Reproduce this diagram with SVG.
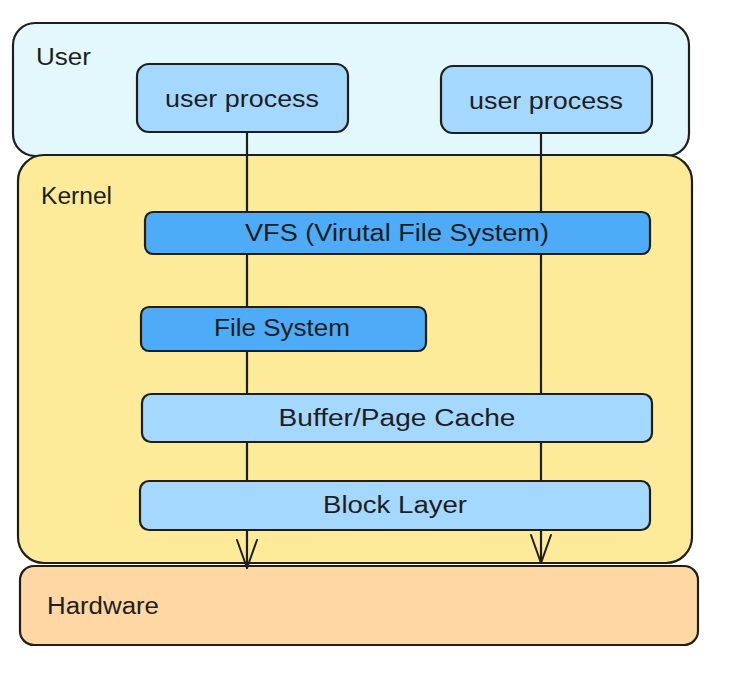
<svg xmlns="http://www.w3.org/2000/svg" width="729" height="674" viewBox="0 0 729 674">
<defs>
<style>
.box{stroke:#1e1e1e;stroke-width:2.2;stroke-linejoin:round}
.lbl{font-family:"Liberation Sans","DejaVu Sans",sans-serif;font-size:23px;fill:#1e1e1e;dominant-baseline:central}
.c{text-anchor:middle}
.conn{stroke:#1e1e1e;stroke-width:2.2;fill:none;stroke-linecap:round;stroke-linejoin:round}
</style>
<marker id="arr" viewBox="0 0 32 24" refX="30" refY="12" markerWidth="32" markerHeight="24" markerUnits="userSpaceOnUse" orient="auto">
<path d="M2 2 L30 12 L2 22" fill="none" stroke="#1e1e1e" stroke-width="2" stroke-linecap="round" stroke-linejoin="round"/>
</marker>
</defs>
<rect width="729" height="674" fill="#ffffff"/>
<g id="user">
<rect class="box" x="13" y="23" width="676" height="133" rx="22" fill="#e3f8fc"/>
<text class="lbl" x="36" y="57" textLength="55" lengthAdjust="spacingAndGlyphs">User</text>
</g>
<g id="kernel">
<rect class="box" x="18" y="155" width="674" height="408" rx="26" fill="#fdeb99"/>
<text class="lbl" x="41" y="196" textLength="71" lengthAdjust="spacingAndGlyphs">Kernel</text>
</g>
<g id="hardware">
<rect class="box" x="20" y="566" width="678" height="79" rx="14" fill="#fed7a3"/>
<text class="lbl" x="47" y="606" textLength="112" lengthAdjust="spacingAndGlyphs">Hardware</text>
</g>
<g id="connectors">
<path class="conn" d="M247 133 L247 568" marker-end="url(#arr)"/>
<path class="conn" d="M541 131 L541 563" marker-end="url(#arr)"/>
</g>
<g id="user-process-1">
<rect class="box" x="137" y="64" width="211" height="68" rx="12" fill="#a5d8ff"/>
<text class="lbl c" x="242" y="99" textLength="154" lengthAdjust="spacingAndGlyphs">user process</text>
</g>
<g id="user-process-2">
<rect class="box" x="441" y="66" width="211" height="67" rx="12" fill="#a5d8ff"/>
<text class="lbl c" x="546" y="101" textLength="154" lengthAdjust="spacingAndGlyphs">user process</text>
</g>
<g id="vfs">
<rect class="box" x="145" y="212" width="505" height="42" rx="8" fill="#4dabf7"/>
<text class="lbl c" x="397" y="233" textLength="304" lengthAdjust="spacingAndGlyphs">VFS (Virutal File System)</text>
</g>
<g id="file-system">
<rect class="box" x="141" y="307" width="285" height="44" rx="8" fill="#4dabf7"/>
<text class="lbl c" x="282" y="328" textLength="136" lengthAdjust="spacingAndGlyphs">File System</text>
</g>
<g id="buffer-page-cache">
<rect class="box" x="142" y="394" width="510" height="48" rx="9" fill="#a5d8ff"/>
<text class="lbl c" x="397" y="418" textLength="237" lengthAdjust="spacingAndGlyphs">Buffer/Page Cache</text>
</g>
<g id="block-layer">
<rect class="box" x="140" y="481" width="510" height="49" rx="9" fill="#a5d8ff"/>
<text class="lbl c" x="395" y="505" textLength="144" lengthAdjust="spacingAndGlyphs">Block Layer</text>
</g>
</svg>
